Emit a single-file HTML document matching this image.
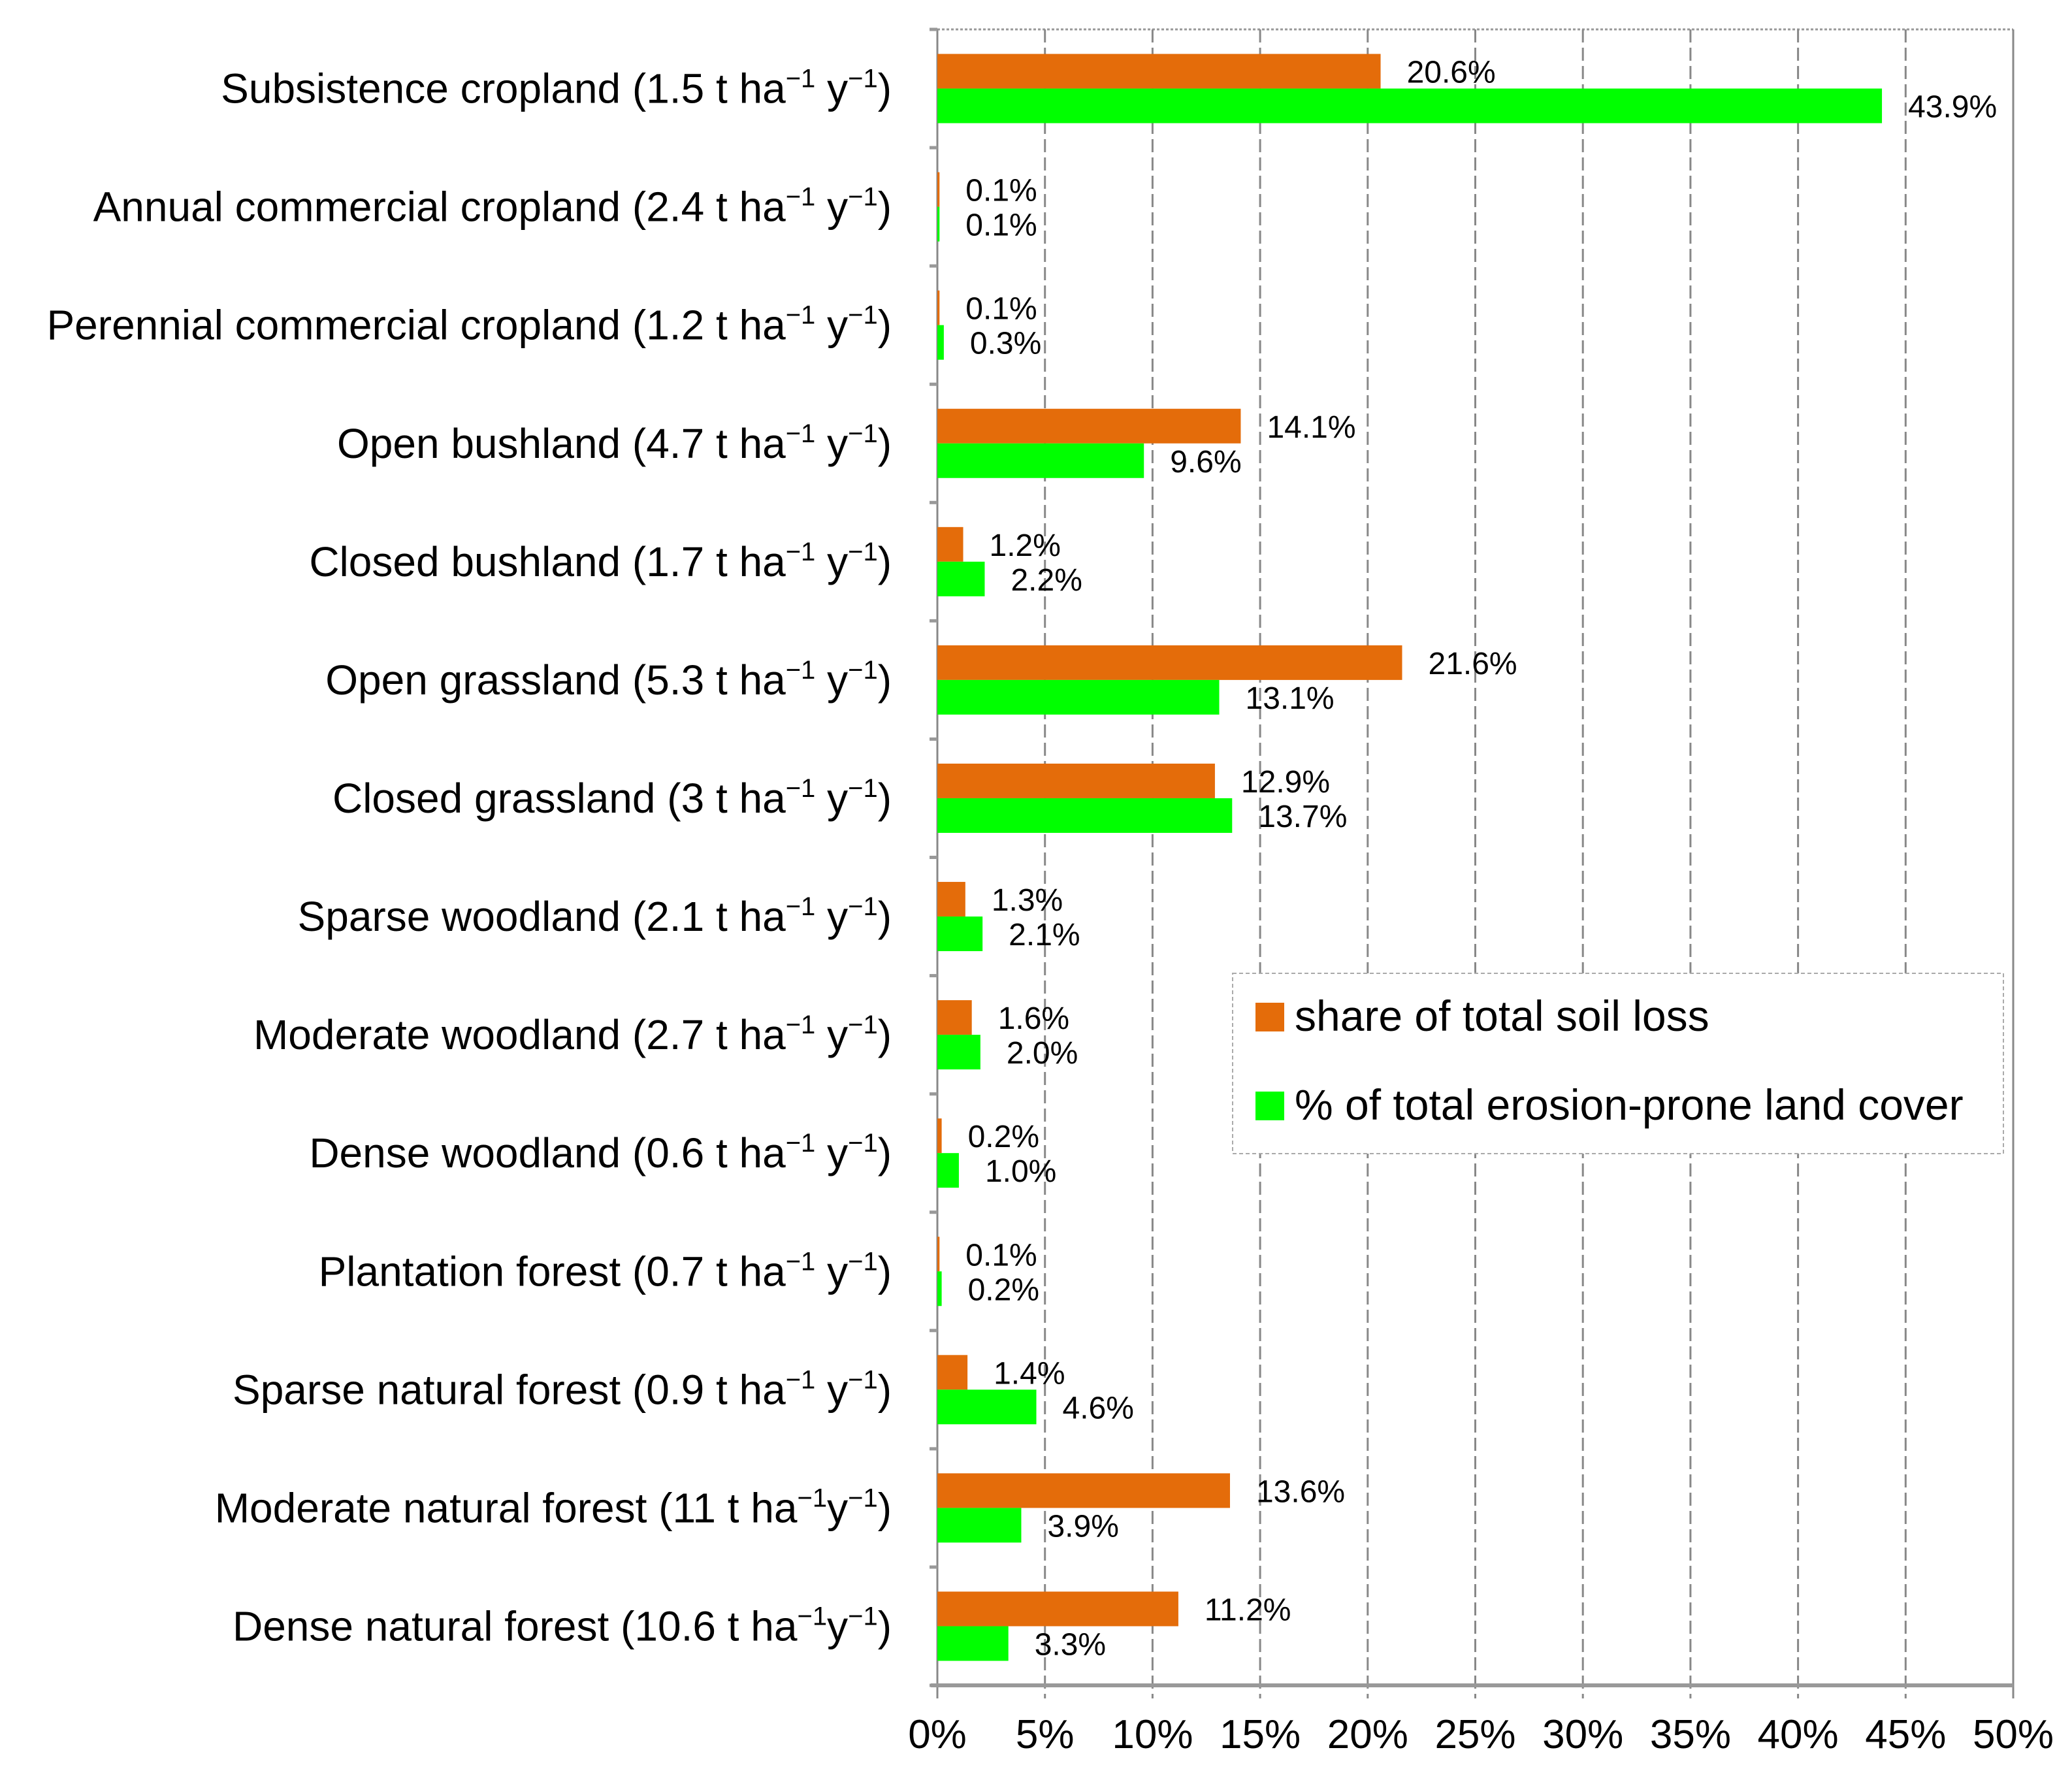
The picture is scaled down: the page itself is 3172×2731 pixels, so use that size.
<!DOCTYPE html>
<html><head><meta charset="utf-8"><style>
html,body{margin:0;padding:0;background:#fff;}
svg{display:block;font-family:"Liberation Sans",sans-serif;}
</style></head><body>
<svg id="chart" width="3172" height="2731" viewBox="0 0 3172 2731" xmlns="http://www.w3.org/2000/svg">
<g id="grid"></g>
<g id="bars"></g>
<g id="labels"></g>
<g id="ticks"></g>
<g>
  <rect x="1887" y="1490" width="1180" height="276" fill="#fff" stroke="#aaa" stroke-width="2" stroke-dasharray="6,4"/>
  <rect x="1922" y="1535" width="44" height="44" fill="#e46c0a"/>
  <text transform="translate(1982,1578)" font-size="66" fill="#000">share of total soil loss</text>
  <rect x="1922" y="1671" width="44" height="44" fill="#00ff00"/>
  <text transform="translate(1982,1714)" font-size="66" fill="#000">% of total erosion-prone land cover</text>
</g>
</svg>
<script>
const categories = [
 ["Subsistence cropland (1.5 t ha","\u22121"," y","\u22121",")"],
 ["Annual commercial cropland (2.4 t ha","\u22121"," y","\u22121",")"],
 ["Perennial commercial cropland (1.2 t ha","\u22121"," y","\u22121",")"],
 ["Open bushland (4.7 t ha","\u22121"," y","\u22121",")"],
 ["Closed bushland (1.7 t ha","\u22121"," y","\u22121",")"],
 ["Open grassland (5.3 t ha","\u22121"," y","\u22121",")"],
 ["Closed grassland (3 t ha","\u22121"," y","\u22121",")"],
 ["Sparse woodland (2.1 t ha","\u22121"," y","\u22121",")"],
 ["Moderate woodland (2.7 t ha","\u22121"," y","\u22121",")"],
 ["Dense woodland (0.6 t ha","\u22121"," y","\u22121",")"],
 ["Plantation forest (0.7 t ha","\u22121"," y","\u22121",")"],
 ["Sparse natural forest (0.9 t ha","\u22121"," y","\u22121",")"],
 ["Moderate natural forest (11 t ha","\u22121","y","\u22121",")"],
 ["Dense natural forest (10.6 t ha","\u22121","y","\u22121",")"]
];
const soilLoss = [20.6,0.1,0.1,14.1,1.2,21.6,12.9,1.3,1.6,0.2,0.1,1.4,13.6,11.2];
const landCover = [43.9,0.1,0.3,9.6,2.2,13.1,13.7,2.1,2.0,1.0,0.2,4.6,3.9,3.3];
const tickValues = [0,5,10,15,20,25,30,35,40,45,50];

const NS="http://www.w3.org/2000/svg";
const X0=1435, X1=3082, Y0=45, Y1=2580, XMAX=50;
const band=(Y1-Y0)/categories.length, barH=53;
const xs=v=>X0+(v/XMAX)*(X1-X0);
const yc=i=>Y0+band*(i+0.5);
function mk(tag,attrs,parent){const e=document.createElementNS(NS,tag);for(const k in attrs)e.setAttribute(k,attrs[k]);parent.appendChild(e);return e;}
const grid=document.getElementById('grid'),bars=document.getElementById('bars'),labels=document.getElementById('labels'),ticks=document.getElementById('ticks');
let t=mk('line',{x1:X0,y1:Y0,x2:X1,y2:Y0,stroke:'#999','stroke-width':3,'stroke-dasharray':'4,3'},grid);


tickValues.forEach(v=>{
 const x=xs(v);
 const l=mk('line',{x1:x,y1:Y0,x2:x,y2:Y1+20,stroke:'#888','stroke-width':3,'stroke-dasharray':v===0||v===50?'none':'20,8'},grid);
 
 
 const tx=mk('text',{transform:`translate(${x},2676)`,'text-anchor':'middle','font-size':62,fill:'#000'},ticks);
 tx.textContent=v+'%';
 
 
});
const ax=mk('line',{x1:X0-10,y1:Y1,x2:X1,y2:Y1,stroke:'#999','stroke-width':6},grid);


for(let i=0;i<=categories.length;i++){
 const tk=mk('line',{x1:X0-12,y1:Y0+band*i,x2:X0,y2:Y0+band*i,stroke:'#999','stroke-width':5},grid);
 
 
}
categories.forEach((c,i)=>{
 const y=yc(i);
 const o=mk('rect',{x:X0,y:y-barH,width:xs(soilLoss[i])-X0,height:barH,fill:'#e46c0a'},bars);
 
 
 const g=mk('rect',{x:X0,y:y,width:xs(landCover[i])-X0,height:barH,fill:'#00ff00'},bars);
 
 
 const ol=mk('text',{transform:`translate(${xs(soilLoss[i])+40},${y-9})`,'font-size':48,fill:'#000'},bars);
 ol.textContent=soilLoss[i].toFixed(1)+'%';
 
 
 const gl=mk('text',{transform:`translate(${xs(landCover[i])+40},${y+44})`,'font-size':48,fill:'#000'},bars);
 gl.textContent=landCover[i].toFixed(1)+'%';
 
 
 const tx=mk('text',{transform:`translate(1365,${y+22})`,'text-anchor':'end','font-size':64,fill:'#000'},labels);
 
 
 c.forEach((s,j)=>{const sp=mk('tspan',{},tx);sp.textContent=s;
  if(j===1||j===3){sp.setAttribute('font-size',40);sp.setAttribute('dy',-24);}
  else if(j===2||j===4){sp.setAttribute('dy',24);}
 });
});
</script>
</body></html>
